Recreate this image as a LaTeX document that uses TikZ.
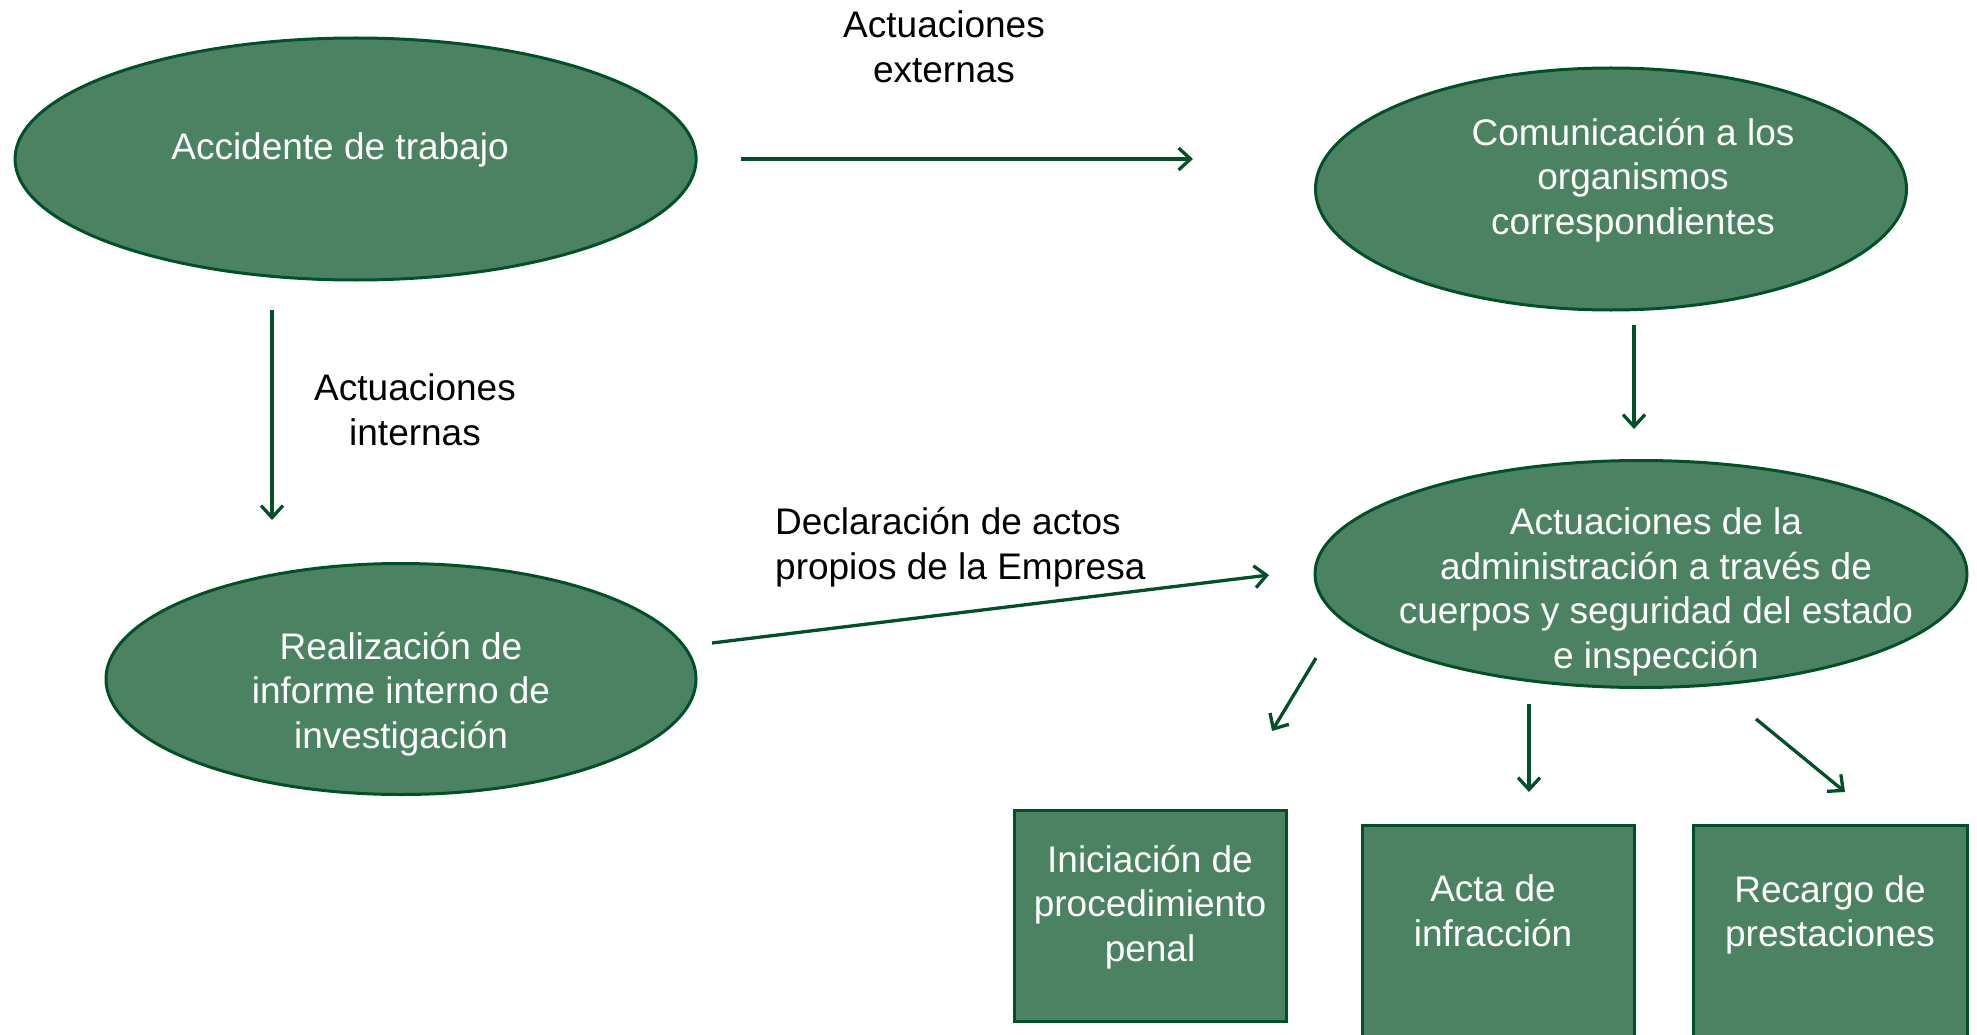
\documentclass[tikz,border=0pt]{standalone}
\usepackage{fontspec}
\setmainfont{Liberation Sans}
\usetikzlibrary{arrows.meta,shapes.geometric}
\definecolor{gfill}{RGB}{75,131,98}
\definecolor{gline}{RGB}{0,80,40}
\begin{document}
\begin{tikzpicture}[x=1pt,y=-1pt,
  shp/.style={draw=gline,fill=gfill,line width=3pt,inner sep=0pt,outer sep=0pt},
  ell/.style={shp,ellipse},
  boxx/.style={shp,rectangle},
  wtext/.style={text=white,align=center,font=\fontsize{37}{44.5}\selectfont,inner sep=0pt},
  btext/.style={text=black,align=center,font=\fontsize{37}{44.5}\selectfont,inner sep=0pt},
  arr/.style={draw=gline,line width=3.3pt,-{Straight Barb[length=12pt,width=22pt]}}]
\useasboundingbox (0,0) rectangle (1977,1035);
\clip (0,0) rectangle (1977,1035);
\fill[white] (0,0) rectangle (1977,1035);
% ellipses
\node[ell,minimum width=681pt,minimum height=242pt] (acc) at (355.6,159) {};
\node[ell,minimum width=591pt,minimum height=242pt] (com) at (1611,189) {};
\node[ell,minimum width=590pt,minimum height=231pt] (rea) at (401,679) {};
\node[ell,minimum width=652pt,minimum height=227pt] (adm) at (1641,574) {};
% boxes
\node[boxx,minimum width=272pt,minimum height=211pt] (pen) at (1150,915.5) {};
\node[boxx,minimum width=272pt,minimum height=240pt] (act) at (1498,945) {};
\node[boxx,minimum width=274pt,minimum height=240pt] (rec) at (1830,945) {};
% texts in shapes
\node[wtext] (tacc) at (340,150) {Accidente de trabajo};
\node[wtext] (tcom) at (1633,180) {Comunicación a los\\organismos\\correspondientes};
\node[wtext] (trea) at (401,694) {Realización de\\informe interno de\\investigación};
\node[wtext] (tadm) at (1656,592) {Actuaciones de la\\administración a través de\\cuerpos y seguridad del estado\\e inspección};
\node[wtext] (tpen) at (1150,907) {Iniciación de\\procedimiento\\penal};
\node[wtext] (tact) at (1493,911) {Acta de\\infracción};
\node[wtext] (trec) at (1830,915) {Recargo de\\prestaciones};
% labels
\node[btext] (lext) at (944,47) {Actuaciones\\externas};
\node[btext] (lint) at (415,410) {Actuaciones\\internas};
\node[btext,align=left,anchor=west] (ldec) at (775,547) {Declaración de actos\\propios de la Empresa};
% arrow end points
\coordinate (a1s) at (741,159);  \coordinate (a1e) at (1193,159);
\coordinate (a2s) at (272,310);  \coordinate (a2e) at (272,520);
\coordinate (a3s) at (1634,325); \coordinate (a3e) at (1634,429);
\coordinate (a4s) at (712,643);  \coordinate (a4e) at (1269,575);
\coordinate (a5s) at (1316,658); \coordinate (a5e) at (1272,731);
\coordinate (a6s) at (1529,704); \coordinate (a6e) at (1529,792);
\coordinate (a7s) at (1756,719); \coordinate (a7e) at (1845,792);
\draw[arr] (a1s) -- (a1e);
\draw[arr] (a2s) -- (a2e);
\draw[arr] (a3s) -- (a3e);
\draw[arr] (a4s) -- (a4e);
\draw[arr] (a5s) -- (a5e);
\draw[arr] (a6s) -- (a6e);
\draw[arr] (a7s) -- (a7e);
\end{tikzpicture}
\end{document}
